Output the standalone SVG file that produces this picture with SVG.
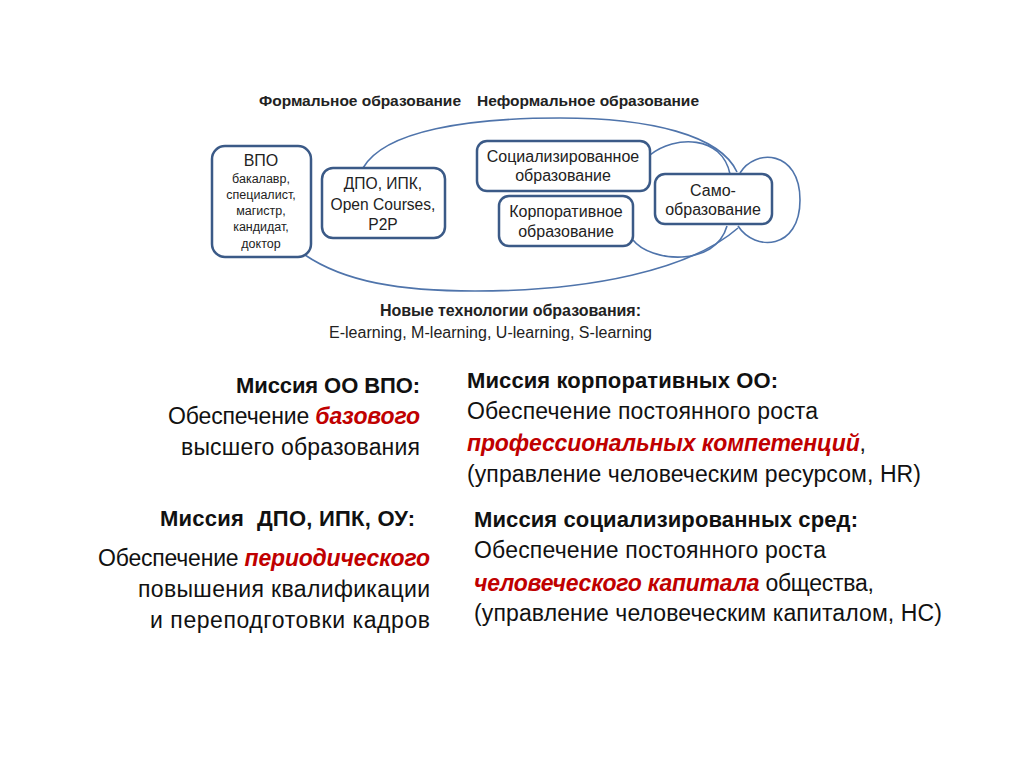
<svg xmlns="http://www.w3.org/2000/svg" width="1024" height="768" viewBox="0 0 1024 768">
<style>
.box{fill:#ffffff;stroke:#3b5a87;stroke-width:2.5}
.cn{fill:none;stroke:#4f74ab;stroke-width:1.6}
.bt{font-family:"Liberation Sans","Noto Sans",sans-serif;fill:#222;text-anchor:middle}
.hd{font-family:"Liberation Sans","Noto Sans",sans-serif;font-weight:bold;fill:#222}
.t{font-family:"Liberation Sans","Noto Sans",sans-serif;font-size:23px;fill:#111}
.b{font-weight:bold;font-size:22px}
.r{font-weight:bold;font-style:italic;fill:#c00000}
</style>
<rect width="1024" height="768" fill="#ffffff"/>
<text class="hd" x="259" y="106" font-size="15.5" textLength="202">Формальное образование</text>
<text class="hd" x="477" y="106" font-size="15.5" textLength="222">Неформальное образование</text>
<g id="connectors">
<path class="cn" d="M363,168 C385,130 470,118 560,118 C650,118 720,135 737,172"/>
<path class="cn" d="M305,255 C345,282 400,291 475,291 C590,291 690,270 738,228"/>
<path class="cn" d="M650,155 C675,135 722,135 730,174"/>
<path class="cn" d="M740,173 C755,148 800,150 800,200 C800,250 755,252 738,226"/>
<path class="cn" d="M633,240 C650,262 715,268 727,226"/>
</g>
<g id="vpo">
<rect class="box" x="212" y="146" width="99" height="111" rx="13"/>
<text class="bt" x="261" y="166" font-size="16">ВПО</text>
<text class="bt" x="261" y="183" font-size="12.5">бакалавр,</text>
<text class="bt" x="261" y="199" font-size="12.5">специалист,</text>
<text class="bt" x="261" y="215" font-size="12.5">магистр,</text>
<text class="bt" x="261" y="231" font-size="12.5">кандидат,</text>
<text class="bt" x="261" y="248" font-size="12.5">доктор</text>
</g>
<g id="dpo">
<rect class="box" x="322" y="168" width="123" height="70" rx="11"/>
<text class="bt" x="383" y="189" font-size="15.6">ДПО, ИПК,</text>
<text class="bt" x="383" y="210" font-size="15.6">Open Courses,</text>
<text class="bt" x="383" y="230" font-size="15.6">P2P</text>
</g>
<g id="soc">
<rect class="box" x="477" y="141" width="173" height="50" rx="10"/>
<text class="bt" x="563" y="162" font-size="16">Социализированное</text>
<text class="bt" x="563" y="181" font-size="16">образование</text>
</g>
<g id="korp">
<rect class="box" x="499" y="196" width="134" height="50" rx="10"/>
<text class="bt" x="566" y="217" font-size="16">Корпоративное</text>
<text class="bt" x="566" y="237" font-size="16">образование</text>
</g>
<g id="samo">
<rect class="box" x="655" y="174" width="117" height="50" rx="10"/>
<text class="bt" x="713" y="196" font-size="16">Само-</text>
<text class="bt" x="713" y="215" font-size="16">образование</text>
</g>
<g id="tech">
<text class="hd" x="380" y="316" font-size="16" textLength="261">Новые технологии образования:</text>
<text class="bt" x="490.5" y="338" font-size="16" textLength="323">E-learning, M-learning, U-learning, S-learning</text>
</g>
<g id="mission-vpo">
<text class="t b" x="236" y="393" textLength="184">Миссия ОО ВПО:</text>
<text class="t" x="168" y="424" textLength="252">Обеспечение <tspan class="r">базового</tspan></text>
<text class="t" x="181" y="455" textLength="239">высшего образования</text>
</g>
<g id="mission-dpo">
<text class="t b" x="160" y="526" textLength="255" xml:space="preserve">Миссия  ДПО, ИПК, ОУ:</text>
<text class="t" x="98" y="566" textLength="332">Обеспечение <tspan class="r">периодического</tspan></text>
<text class="t" x="138" y="597" textLength="292">повышения квалификации</text>
<text class="t" x="150" y="628" textLength="280">и переподготовки кадров</text>
</g>
<g id="mission-korp">
<text class="t b" x="467" y="388" textLength="311">Миссия корпоративных ОО:</text>
<text class="t" x="467" y="419" textLength="351">Обеспечение постоянного роста</text>
<text class="t" x="467" y="451" textLength="399"><tspan class="r">профессиональных компетенций</tspan>,</text>
<text class="t" x="467" y="482" textLength="454">(управление человеческим ресурсом, HR)</text>
</g>
<g id="mission-soc">
<text class="t b" x="474" y="527" textLength="384">Миссия социализированных сред:</text>
<text class="t" x="474" y="558" textLength="352">Обеспечение постоянного роста</text>
<text class="t" x="474" y="591" textLength="400"><tspan class="r">человеческого капитала</tspan> общества,</text>
<text class="t" x="474" y="621" textLength="468">(управление человеческим капиталом, HC)</text>
</g>
</svg>
